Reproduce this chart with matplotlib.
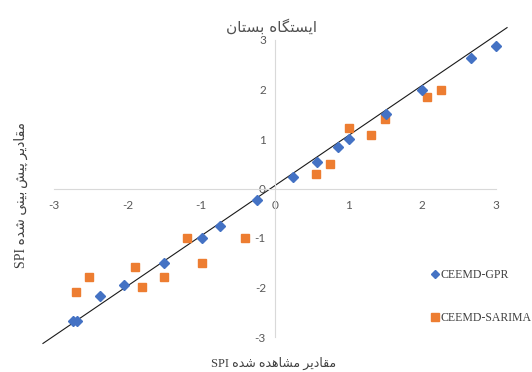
import matplotlib
matplotlib.use("Agg")
import matplotlib.pyplot as plt
from matplotlib.lines import Line2D

# ---------------- data ----------------
title_text = "ایستگاه بستان"
xlabel_text = "مقادیر مشاهده شده SPI"
ylabel_text = "مقادیر پیش\u200cبینی شده SPI"

series_names = ["CEEMD-GPR", "CEEMD-SARIMA"]

gpr_obs = [-2.74, -2.69, -2.38, -2.05, -1.51, -0.99, -0.75, -0.25,
           0.25, 0.57, 0.86, 1.01, 1.50, 2.00, 2.66, 3.00]
gpr_pred = [-2.68, -2.68, -2.18, -1.95, -1.50, -1.00, -0.76, -0.24,
            0.24, 0.53, 0.83, 0.99, 1.50, 2.00, 2.63, 2.88]

sarima_obs = [-2.70, -2.52, -1.90, -1.80, -1.51, -1.20, -0.99, -0.41,
              0.55, 0.75, 1.01, 1.30, 1.49, 2.06, 2.26]
sarima_pred = [-2.09, -1.78, -1.59, -1.99, -1.78, -1.00, -1.50, -1.00,
               0.30, 0.50, 1.23, 1.09, 1.40, 1.85, 2.00]

line_x = [-3.15, 3.15]
line_y = [-3.13, 3.25]

ticks = [-3, -2, -1, 0, 1, 2, 3]
tick_labels = ["-3", "-2", "-1", "0", "1", "2", "3"]

# ------------- minimal Arabic/Persian shaping for display -------------
FORMS = {  # isolated, final, initial, medial
    "\u0627": ("\uFE8D", "\uFE8E", None, None),
    "\u0628": ("\uFE8F", "\uFE90", "\uFE91", "\uFE92"),
    "\u067E": ("\uFB56", "\uFB57", "\uFB58", "\uFB59"),
    "\u062A": ("\uFE95", "\uFE96", "\uFE97", "\uFE98"),
    "\u062F": ("\uFEA9", "\uFEAA", None, None),
    "\u0631": ("\uFEAD", "\uFEAE", None, None),
    "\u0633": ("\uFEB1", "\uFEB2", "\uFEB3", "\uFEB4"),
    "\u0634": ("\uFEB5", "\uFEB6", "\uFEB7", "\uFEB8"),
    "\u0642": ("\uFED5", "\uFED6", "\uFED7", "\uFED8"),
    "\u06AF": ("\uFB92", "\uFB93", "\uFB94", "\uFB95"),
    "\u0645": ("\uFEE1", "\uFEE2", "\uFEE3", "\uFEE4"),
    "\u0646": ("\uFEE5", "\uFEE6", "\uFEE7", "\uFEE8"),
    "\u0647": ("\uFEE9", "\uFEEA", "\uFEEB", "\uFEEC"),
    "\u06CC": ("\uFBFC", "\uFBFD", "\uFBFE", "\uFBFF"),
}


def dual(c):
    return c in FORMS and FORMS[c][2] is not None


def shape(s):
    out = []
    for i, c in enumerate(s):
        if c not in FORMS:
            if c == "\u200c":
                out.append("\u2009")
            else:
                out.append(c)
            continue
        prev = s[i - 1] if i > 0 else ""
        nxt = s[i + 1] if i + 1 < len(s) else ""
        pj = dual(prev)
        nj = dual(c) and nxt in FORMS
        iso, fin, ini, med = FORMS[c]
        if pj and nj:
            out.append(med)
        elif pj:
            out.append(fin)
        elif nj:
            out.append(ini)
        else:
            out.append(iso)
    return "".join(out)


def visual(s):
    shaped = shape(s)[::-1]
    res, run = [], []
    for c in shaped:
        if c.isascii() and c.isalnum():
            run.append(c)
        else:
            if run:
                res.append("".join(run[::-1]))
                run = []
            res.append(c)
    if run:
        res.append("".join(run[::-1]))
    return "".join(res)


# ---------------- figure ----------------
W, H = 532, 372
fig = plt.figure(figsize=(W / 100, H / 100), dpi=100)
ax = fig.add_axes([54 / W, 35 / H, 442 / W, 297 / H])
ax.set_xlim(-3, 3)
ax.set_ylim(-3, 3)

for side in ["top", "right"]:
    ax.spines[side].set_visible(False)
for side in ["left", "bottom"]:
    ax.spines[side].set_position("zero")
    ax.spines[side].set_color("#d9d9d9")
    ax.spines[side].set_linewidth(0.8)

ax.set_xticks(ticks)
ax.set_xticklabels(tick_labels)
ax.set_yticks(ticks)
ax.set_yticklabels(tick_labels)
ax.tick_params(axis="x", length=0, pad=8, labelsize=8.5, labelcolor="#595959")
ax.tick_params(axis="y", length=0, pad=6.5, labelsize=8.5, labelcolor="#595959")
for lab in ax.get_xticklabels() + ax.get_yticklabels():
    lab.set_family("Lato")

ax.plot(line_x, line_y, color="#1a1a1a", lw=0.8, clip_on=False, zorder=2)
ax.plot(sarima_obs, sarima_pred, ls="none", marker="s", ms=5.8,
        color="#ED7D31", mec="#ED7D31", clip_on=False, zorder=3)
ax.plot(gpr_obs, gpr_pred, ls="none", marker="D", ms=5.4,
        color="#4472C4", mec="#4472C4", clip_on=False, zorder=4)

fig.text(272 / W, 1 - 27 / H, visual(title_text), ha="center", va="center",
         fontsize=11, color="#505050", family="DejaVu Sans")
fig.text(274 / W, 1 - 363 / H, visual(xlabel_text), ha="center", va="center",
         fontsize=9, color="#404040", family=["Liberation Serif", "DejaVu Sans"])
fig.text(21 / W, 1 - 195 / H, visual(ylabel_text), ha="center", va="center",
         rotation=90, fontsize=10, color="#404040",
         family=["Liberation Serif", "DejaVu Sans"])

handles = [
    Line2D([], [], ls="none", marker="D", ms=3.8, color="#4472C4"),
    Line2D([], [], ls="none", marker="s", ms=5.2, color="#ED7D31"),
]
fig.legend(handles, series_names, loc="upper left",
           bbox_to_anchor=(431 / W, 1 - 269 / H), frameon=False,
           prop=dict(family="Liberation Serif", size=8.5),
           labelcolor="#404040", labelspacing=2.6, handlelength=0.6,
           handletextpad=0.2, borderaxespad=0, borderpad=0)

fig.savefig("out.png", dpi=100)
